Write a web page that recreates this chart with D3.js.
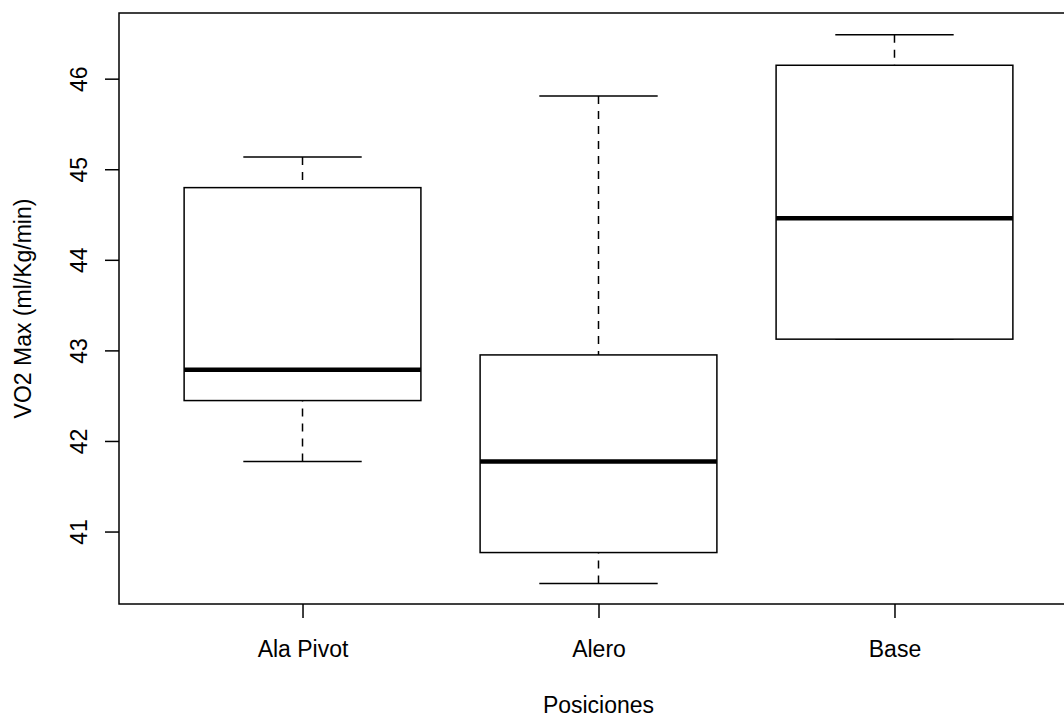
<!DOCTYPE html>
<html>
<head>
<meta charset="utf-8">
<script src="https://cdn.jsdelivr.net/npm/d3@7"></script>
<style>
  html, body { margin: 0; padding: 0; background: #fff; }
  svg { display: block; }
  text { font-family: "Liberation Sans", Arial, Helvetica, sans-serif; fill: #000; }
</style>
</head>
<body>
<svg id="chart" width="1064" height="716"></svg>
<script>
// Five-number summaries of VO2 max per playing position
const categories = ["Ala Pivot", "Alero", "Base"];
const whiskerLow  = [41.773, 40.426, 43.124];
const quartile1   = [42.446, 40.768, 43.124];
const medians     = [42.785, 41.773, 44.460];
const quartile3   = [44.797, 42.950, 46.148];
const whiskerHigh = [45.136, 45.810, 46.486];
const yTicks      = [41, 42, 43, 44, 45, 46];

const xTitle = "Posiciones";
const yTitle = "VO2 Max (ml/Kg/min)";

const svg = d3.select("#chart");
const W = 1064, H = 716;
const plot = { left: 119, top: 13, right: 1078, bottom: 604 };
const fontSize = 23;

// group positions 1..n, with the usual 4% padding around 0.5..n+0.5
const x = d3.scaleLinear()
  .domain([0.38, categories.length + 0.62])
  .range([plot.left, plot.right]);
const y = d3.scaleLinear()
  .domain([40.2, 46.725])
  .range([plot.bottom, plot.top]);

const unit = x(2) - x(1);
const boxHalf = 0.4 * unit;
const capHalf = 0.2 * unit;

const boxes = categories.map((c, i) => ({
  name: c, pos: i + 1,
  lo: whiskerLow[i], q1: quartile1[i], med: medians[i],
  q3: quartile3[i], hi: whiskerHigh[i]
}));

const g = svg.append("g");

// dashed whiskers, drawn from the whisker end towards the box
const whiskers = g.append("g")
  .attr("stroke", "#000").attr("stroke-width", 1.5)
  .attr("stroke-dasharray", "8,7").attr("fill", "none");
boxes.forEach(b => {
  whiskers.append("line")
    .attr("x1", x(b.pos)).attr("x2", x(b.pos))
    .attr("y1", y(b.lo)).attr("y2", y(b.q1));
  whiskers.append("line")
    .attr("x1", x(b.pos)).attr("x2", x(b.pos))
    .attr("y1", y(b.hi)).attr("y2", y(b.q3));
});

// staples
const staples = g.append("g").attr("stroke", "#000").attr("stroke-width", 1.5);
boxes.forEach(b => {
  [b.lo, b.hi].forEach(v => {
    staples.append("line")
      .attr("x1", x(b.pos) - capHalf).attr("x2", x(b.pos) + capHalf)
      .attr("y1", y(v)).attr("y2", y(v));
  });
});

// boxes
g.append("g").selectAll("rect").data(boxes).join("rect")
  .attr("x", d => x(d.pos) - boxHalf)
  .attr("width", 2 * boxHalf)
  .attr("y", d => y(d.q3))
  .attr("height", d => y(d.q1) - y(d.q3))
  .attr("fill", "#fff")
  .attr("stroke", "#000")
  .attr("stroke-width", 1.5);

// medians
g.append("g").selectAll("line").data(boxes).join("line")
  .attr("x1", d => x(d.pos) - boxHalf)
  .attr("x2", d => x(d.pos) + boxHalf)
  .attr("y1", d => y(d.med)).attr("y2", d => y(d.med))
  .attr("stroke", "#000").attr("stroke-width", 4.5);

// frame
svg.append("rect")
  .attr("x", plot.left).attr("y", plot.top)
  .attr("width", plot.right - plot.left)
  .attr("height", plot.bottom - plot.top)
  .attr("fill", "none").attr("stroke", "#000").attr("stroke-width", 1.5);

// x axis
const xAxis = d3.axisBottom(x)
  .tickValues(boxes.map(b => b.pos))
  .tickFormat(v => categories[v - 1])
  .tickSize(14).tickPadding(20);
const xa = svg.append("g")
  .attr("transform", `translate(0,${plot.bottom})`)
  .call(xAxis);
xa.select(".domain").remove();
xa.selectAll(".tick line").attr("stroke", "#000").attr("stroke-width", 1.5);
xa.selectAll(".tick text")
  .attr("font-size", fontSize)
  .attr("font-family", "Liberation Sans, Arial, Helvetica, sans-serif")
  .attr("dy", null).attr("y", 52.7);

// y axis with rotated labels
const yAxis = d3.axisLeft(y).tickValues(yTicks).tickSize(14).tickFormat(d3.format("d"));
const ya = svg.append("g")
  .attr("transform", `translate(${plot.left},0)`)
  .call(yAxis);
ya.select(".domain").remove();
ya.selectAll(".tick line").attr("stroke", "#000").attr("stroke-width", 1.5);
ya.selectAll(".tick text")
  .attr("font-size", fontSize)
  .attr("font-family", "Liberation Sans, Arial, Helvetica, sans-serif")
  .attr("x", null).attr("dy", null)
  .attr("text-anchor", "middle")
  .attr("transform", `translate(${87 - plot.left},0) rotate(-90)`);

// axis titles
svg.append("text")
  .attr("x", (plot.left + plot.right) / 2)
  .attr("y", 712.5)
  .attr("text-anchor", "middle")
  .attr("font-size", fontSize)
  .text(xTitle);

svg.append("text")
  .attr("transform", `translate(30.5,${(plot.top + plot.bottom) / 2}) rotate(-90)`)
  .attr("text-anchor", "middle")
  .attr("font-size", fontSize)
  .text(yTitle);
</script>
</body>
</html>
